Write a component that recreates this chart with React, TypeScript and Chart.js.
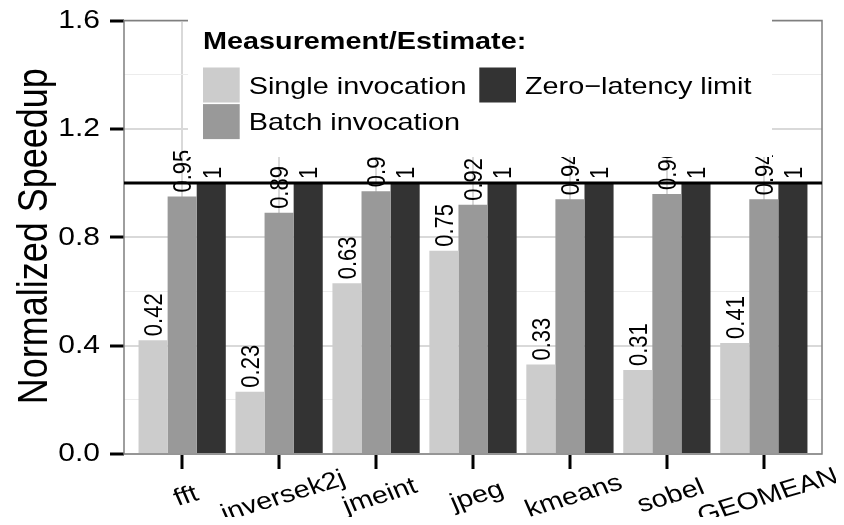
import React, { useEffect, useRef } from 'react';
import { Chart, registerables } from 'chart.js';

Chart.register(...registerables);

// ---- data ----
const categories = ['fft', 'inversek2j', 'jmeint', 'jpeg', 'kmeans', 'sobel', 'GEOMEAN'];
const singleInvocation = [0.42, 0.23, 0.63, 0.75, 0.33, 0.31, 0.41];
const batchInvocation = [0.95, 0.89, 0.97, 0.92, 0.94, 0.96, 0.94];
const zeroLatencyLimit = [1, 1, 1, 1, 1, 1, 1];
const seriesNames = ['Single invocation', 'Batch invocation', 'Zero\u2212latency limit'];
const seriesColors = ['#cccccc', '#999999', '#333333'];
const yTickLabels = [0, 0.4, 0.8, 1.2, 1.6];
const legendTitle = 'Measurement/Estimate:';
const yAxisTitle = 'Normalized Speedup';
const referenceLine = 1;

const SX = 1.2; // horizontal text stretch of the reference
const FONT = '"Liberation Sans", Arial, Helvetica, sans-serif';

const allSeries = [singleInvocation, batchInvocation, zeroLatencyLimit];

function isMajor(v: number) {
  return Math.round(v * 10) % 4 === 0;
}

function drawText(
  ctx: CanvasRenderingContext2D,
  text: string,
  x: number,
  y: number,
  angle: number,
  align: CanvasTextAlign,
  baseline: CanvasTextBaseline
) {
  ctx.save();
  ctx.translate(x, y);
  ctx.scale(SX, 1);
  if (angle) ctx.rotate(angle);
  ctx.textAlign = align;
  ctx.textBaseline = baseline;
  ctx.fillText(text, 0, 0);
  ctx.restore();
}

const overlayPlugin = {
  id: 'overlay',
  afterDatasetsDraw(chart: any) {
    const ctx: CanvasRenderingContext2D = chart.ctx;
    const a = chart.chartArea;
    const xs = chart.scales.x;
    const ys = chart.scales.y;
    ctx.save();

    // panel border
    ctx.strokeStyle = '#7f7f7f';
    ctx.lineWidth = 1.5;
    ctx.strokeRect(a.left, a.top, a.right - a.left, a.bottom - a.top);

    // reference line
    const yr = ys.getPixelForValue(referenceLine);
    ctx.strokeStyle = '#000000';
    ctx.lineWidth = 3;
    ctx.beginPath();
    ctx.moveTo(a.left, yr);
    ctx.lineTo(a.right, yr);
    ctx.stroke();

    // value labels
    ctx.fillStyle = '#000000';
    ctx.font = `22px ${FONT}`;
    allSeries.forEach((vals, d) => {
      const meta = chart.getDatasetMeta(d);
      meta.data.forEach((bar: any, i: number) => {
        drawText(ctx, String(vals[i]), bar.x + 2, bar.y - 4, -Math.PI / 2, 'left', 'middle');
      });
    });

    // legend box
    const bl = a.left + 64;
    const bt = a.top - 11;
    const br = a.left + 648;
    const bb = a.top + 136.5;
    ctx.fillStyle = '#ffffff';
    ctx.fillRect(bl, bt, br - bl, bb - bt);

    ctx.fillStyle = '#000000';
    ctx.font = `bold 24px ${FONT}`;
    drawText(ctx, legendTitle, bl + 15, a.top + 28, 0, 'left', 'alphabetic');

    const keyX1 = bl + 15;
    const keyX2 = bl + 291.3;
    const row1 = a.top + 46.2;
    const rowH = 36.6;
    const keyW = 36.7;
    const keys = [
      { x: keyX1, y: row1 },
      { x: keyX1, y: row1 + rowH },
      { x: keyX2, y: row1 },
    ];
    ctx.font = `24px ${FONT}`;
    keys.forEach((k, s) => {
      ctx.fillStyle = seriesColors[s];
      ctx.fillRect(k.x, k.y + 0.8, keyW, rowH - 1.6);
      ctx.fillStyle = '#000000';
      drawText(ctx, seriesNames[s], k.x + keyW + 9, k.y + rowH / 2 + 8.6, 0, 'left', 'alphabetic');
    });

    // x tick labels
    ctx.fillStyle = '#000000';
    ctx.font = `24px ${FONT}`;
    categories.forEach((c, i) => {
      const px = xs.getPixelForValue(i) + 4;
      drawText(ctx, c, px, a.bottom + 42.5, -20 * Math.PI / 180, 'center', 'middle');
    });

    // y tick labels
    ctx.font = `25px ${FONT}`;
    yTickLabels.forEach((v) => {
      drawText(ctx, v.toFixed(1), a.left - 24, ys.getPixelForValue(v) + 0.5, 0, 'right', 'middle');
    });

    // y axis title
    ctx.font = `36px ${FONT}`;
    drawText(ctx, yAxisTitle, 38.7, (a.top + a.bottom) / 2 - 1, -Math.PI / 2, 'center', 'alphabetic');

    ctx.restore();
  },
};

export default function App() {
  const ref = useRef<HTMLCanvasElement>(null);

  useEffect(() => {
    const canvas = ref.current;
    if (!canvas) return;
    const chart = new Chart(canvas, {
      type: 'bar',
      data: {
        datasets: allSeries.map((vals, d) => ({
          label: seriesNames[d],
          data: vals.map((v, i) => ({ x: i, y: v })),
          backgroundColor: seriesColors[d],
          borderWidth: 0,
          categoryPercentage: 0.9,
          barPercentage: 1.0,
        })),
      },
      options: {
        animation: false,
        responsive: false,
        devicePixelRatio: 1,
        layout: { padding: { top: 12.5, right: 14, bottom: 0, left: 0 } },
        plugins: {
          legend: { display: false },
          tooltip: { enabled: false },
        },
        scales: {
          x: {
            type: 'linear',
            min: -0.6,
            max: 6.6,
            offset: false,
            ticks: { display: false, stepSize: 1, includeBounds: false },
            grid: {
              offset: false,
              color: '#d9d9d9',
              lineWidth: 2,
              drawTicks: true,
              tickLength: 15,
              tickColor: '#000000',
              tickWidth: 3,
            },
            border: { display: false },
            afterFit: (s: any) => {
              s.height = 63;
            },
          },
          y: {
            type: 'linear',
            min: 0,
            max: 1.6,
            ticks: { display: false, stepSize: 0.2 },
            grid: {
              offset: false,
              color: (c: any) => (isMajor(c.tick.value) ? '#d9d9d9' : '#ececec'),
              lineWidth: (c: any) => (isMajor(c.tick.value) ? 2 : 1),
              drawTicks: true,
              tickLength: 14,
              tickColor: (c: any) => (isMajor(c.tick.value) ? '#000000' : 'rgba(0,0,0,0)'),
              tickWidth: 3,
            },
            border: { display: false },
            afterFit: (s: any) => {
              s.width = 116;
            },
          },
        },
      } as any,
      plugins: [overlayPlugin],
    });
    return () => chart.destroy();
  }, []);

  return (
    <div style={{ width: 828, height: 509 }}>
      <canvas ref={ref} width={828} height={509} style={{ display: 'block' }} />
    </div>
  );
}
